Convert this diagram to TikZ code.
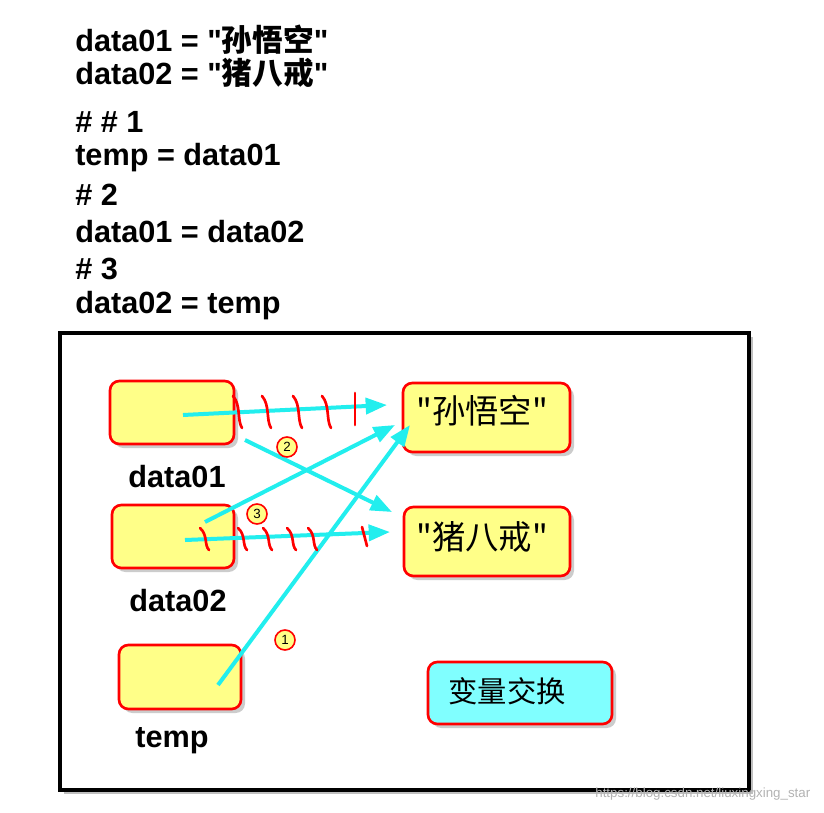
\documentclass[tikz,border=0pt]{standalone}
\usepackage{fontspec}
\setmainfont[Ligatures=TeXOff]{Liberation Sans}
\newfontfamily\cjk{Noto Sans CJK SC}
\usetikzlibrary{arrows.meta}
\definecolor{boxy}{HTML}{FFFF88}
\definecolor{cy}{HTML}{22EEEE}
\definecolor{lab}{HTML}{80FFFF}
\newcommand{\dq}{\symbol{34}}
\tikzset{
 code/.style={anchor=west,font=\fontsize{23}{26}\selectfont\bfseries,inner sep=0pt},
 varbox/.style={draw=red,line width=2pt,fill=boxy,rounded corners=7pt},
 vlab/.style={font=\fontsize{23}{26}\selectfont\bfseries},
 arr/.style={draw=cy,line width=3pt,-{Triangle[length=16pt,width=12pt]}},
 strike/.style={draw=red,line width=2pt,line cap=round},
 num/.style={circle,draw=red,line width=1.2pt,fill=boxy,inner sep=0pt,minimum size=15pt,font=\fontsize{10}{11}\selectfont}
}
\begin{document}
\begin{tikzpicture}[x=0.75pt,y=-0.75pt]
\useasboundingbox (0,0) rectangle (824,813);
\foreach \t/\y [count=\i] in {{data01 = \dq{\cjk 孙悟空}\dq}/40,{data02 = \dq{\cjk 猪八戒}\dq}/73,{\# \# 1}/122,{temp = data01}/158,{\# 2}/195,{data01 = data02}/232,{\# 3}/269,{data02 = temp}/306}{
 \node[code] (c\i) at (75,\y) {\t};
}
\fill[black!25] (64,337) rectangle (753,794);
\draw[line width=3pt,fill=white] (60,333) rectangle (749,790);
\foreach \a/\b in {{(110,381)}/{(234,444)},{(112,505)}/{(234,568)},{(119,645)}/{(241,709)},{(403,383)}/{(570,452)},{(404,507)}/{(570,576)},{(428,662)}/{(612,724)}}
 \fill[black!20,rounded corners=7pt,shift={(4,4)}] \a rectangle \b;
\draw[varbox] (110,381) rectangle (234,444) node[pos=.5] (d1) {};
\draw[varbox] (112,505) rectangle (234,568) node[pos=.5] (d2) {};
\draw[varbox] (119,645) rectangle (241,709) node[pos=.5] (tp) {};
\node[vlab] (l1) at (177,477) {data01};
\node[vlab] (l2) at (178,601) {data02};
\node[vlab] (l3) at (172,741) {temp};
\draw[varbox] (403,383) rectangle (570,452);
\node[font=\cjk\fontsize{25}{28}\selectfont] (v1) at (482,411) {\dq 孙悟空\dq};
\draw[varbox] (404,507) rectangle (570,576);
\node[font=\cjk\fontsize{25}{28}\selectfont] (v2) at (482,537) {\dq 猪八戒\dq};
\draw[varbox,fill=lab] (428,662) rectangle (612,724);
\node[font=\cjk\fontsize{22}{25}\selectfont] (sw) at (507,691) {变量交换};
\coordinate (a1s) at (183,415); \coordinate (a1e) at (387,405);
\coordinate (a2s) at (245,440); \coordinate (a2e) at (392,512);
\coordinate (a3s) at (205,522); \coordinate (a3e) at (395,425);
\coordinate (a4s) at (185,540); \coordinate (a4e) at (390,532);
\coordinate (a5s) at (218,685); \coordinate (a5e) at (410,425);
\draw[arr] (a1s) -- (a1e);
\draw[arr] (a2s) -- (a2e);
\draw[arr] (a3s) -- (a3e);
\draw[arr] (a4s) -- (a4e);
\draw[arr] (a5s) -- (a5e);
\foreach \x in {233,262,293,322}
 \draw[strike] (\x,396) .. controls (\x+8,405) and (\x+4,420) .. (\x+9,428);
\draw[strike] (355,393) -- (355,425);
\foreach \x in {200,238,263,287,308}
 \draw[strike] (\x,528) .. controls (\x+8,535) and (\x+4,545) .. (\x+9,550);
\draw[strike] (362,527) -- (367,546);
\node[num] (n2) at (287,447) {2};
\node[num] (n3) at (257,514) {3};
\node[num] (n1) at (285,640) {1};
\node[text=black!30,font=\fontsize{10}{12}\selectfont,anchor=east] (wm) at (815,794) {https://blog.csdn.net/liuxingxing\_star};
\end{tikzpicture}
\end{document}
